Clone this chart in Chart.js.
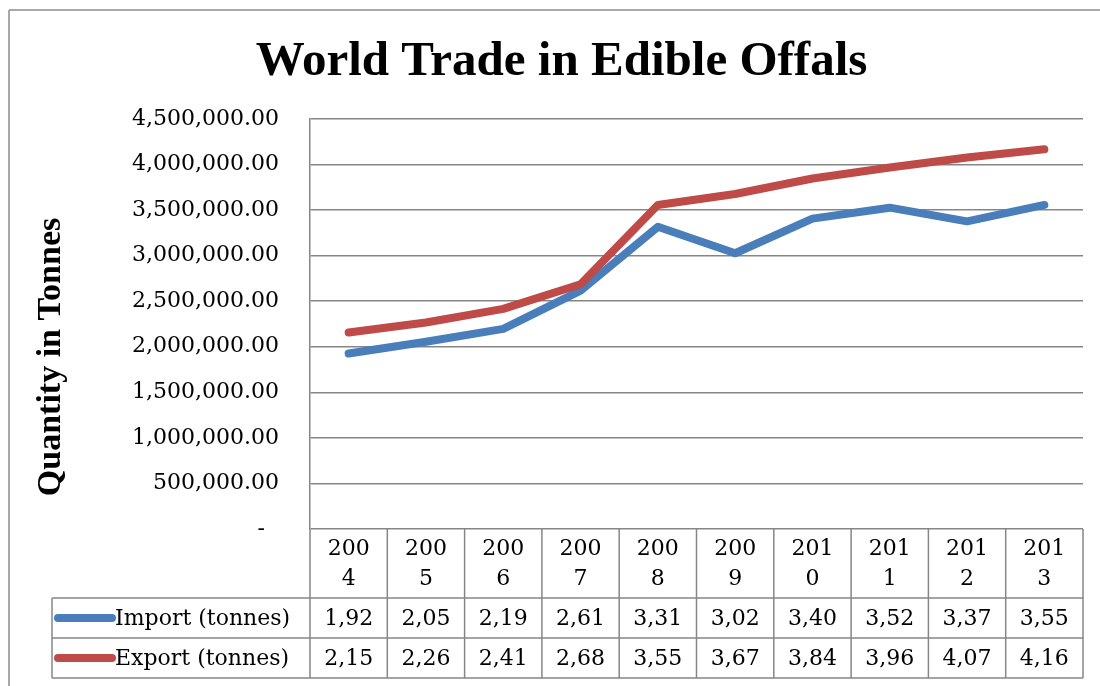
<!DOCTYPE html>
<html>
<head>
<meta charset="utf-8">
<script src="https://cdn.jsdelivr.net/npm/chart.js@4"></script>
<style>html,body{margin:0;background:#fff}</style>
</head>
<body>
<canvas id="chart" width="1100" height="686"></canvas>
<script>
const years = ["2004", "2005", "2006", "2007", "2008", "2009", "2010", "2011", "2012", "2013"];
const importTonnes = [1925000, 2055000, 2195000, 2615000, 3315000, 3025000, 3405000, 3525000, 3375000, 3555000];
const exportTonnes = [2155000, 2265000, 2415000, 2685000, 3555000, 3675000, 3845000, 3965000, 4075000, 4165000];
const seriesNames = ["Import (tonnes)", "Export (tonnes)"];
const seriesColors = ["#4A7EBB", "#BE4B48"];

const gridColor = "#868686";
const serif = "'DejaVu Serif', serif";
const boldSerif = "'Liberation Serif', 'Times New Roman', serif";

// number shown in the data table is cut to the cell width, like in the sheet
function fmt(v) {
  return v.toLocaleString("en-US", { minimumFractionDigits: 2, maximumFractionDigits: 2 });
}

const tablePlugin = {
  id: "dataTable",
  afterDraw(chart) {
    const ctx = chart.ctx;
    const area = chart.chartArea;
    const xs = chart.scales.x;
    const w = (area.right - area.left) / years.length;
    const top = area.bottom, headBottom = 598, row1 = 638, row2 = 678, legendLeft = 52;

    const line = (x1, y1, x2, y2) => {
      ctx.beginPath(); ctx.moveTo(x1, y1); ctx.lineTo(x2, y2); ctx.stroke();
    };

    ctx.save();
    // outer frame
    ctx.strokeStyle = "#8c8c8c";
    ctx.lineWidth = 1.5;
    line(9, 10, 1100, 10);
    line(9, 10, 9, 686);

    ctx.strokeStyle = gridColor;
    line(legendLeft, headBottom, area.right, headBottom);
    line(legendLeft, row1, area.right, row1);
    line(legendLeft, row2, area.right, row2);
    line(legendLeft, headBottom, legendLeft, row2);
    for (let i = 0; i <= years.length; i++) {
      const xb = i < years.length ? xs.getPixelForValue(i) - w / 2 : xs.getPixelForValue(i - 1) + w / 2;
      line(xb, top, xb, row2);
    }

    ctx.fillStyle = "#000";
    ctx.font = "22px " + serif;
    ctx.textAlign = "center";
    ctx.textBaseline = "middle";
    years.forEach((yr, i) => {
      const cx = xs.getPixelForValue(i);
      ctx.fillText(yr.slice(0, 3), cx, 549);
      ctx.fillText(yr.slice(3), cx, 579);
      ctx.fillText(fmt(importTonnes[i]).slice(0, 4), cx, 619);
      ctx.fillText(fmt(exportTonnes[i]).slice(0, 4), cx, 659);
    });

    // legend keys
    [619, 659].forEach((cy, k) => {
      ctx.strokeStyle = seriesColors[k];
      ctx.lineWidth = 8;
      ctx.lineCap = "round";
      line(58, cy - 1, 112, cy - 1);
      ctx.textAlign = "left";
      ctx.fillText(seriesNames[k], 115, cy);
    });

    // y axis title
    ctx.translate(51, 357);
    ctx.rotate(-Math.PI / 2);
    ctx.font = "bold 34px " + boldSerif;
    ctx.textAlign = "center";
    ctx.fillText("Quantity in Tonnes", 0, 0);
    ctx.restore();
  }
};

new Chart(document.getElementById("chart"), {
  type: "line",
  data: {
    labels: years,
    datasets: [
      { label: seriesNames[0], data: importTonnes, borderColor: seriesColors[0], order: 1 },
      { label: seriesNames[1], data: exportTonnes, borderColor: seriesColors[1], order: 0 }
    ]
  },
  options: {
    responsive: false,
    animation: false,
    devicePixelRatio: 1,
    layout: { padding: { left: 40, right: 17, top: 0, bottom: 157 } },
    elements: {
      line: { borderWidth: 8, tension: 0, borderCapStyle: "round", borderJoinStyle: "round" },
      point: { radius: 0, hoverRadius: 0 }
    },
    plugins: {
      legend: { display: false },
      tooltip: { enabled: false },
      title: {
        display: true,
        text: "World Trade in Edible Offals",
        color: "#000",
        font: { family: boldSerif, size: 49, weight: "bold", lineHeight: 1.2 },
        padding: { top: 33, bottom: 27 }
      }
    },
    scales: {
      x: { display: false, offset: true },
      y: {
        min: 0,
        max: 4500000,
        afterFit(s) { s.width = 270; },
        border: { display: true, color: gridColor, width: 1.5 },
        grid: { color: gridColor, lineWidth: 1.5, drawTicks: false },
        ticks: {
          stepSize: 500000,
          padding: 31,
          color: "#000",
          font: { family: serif, size: 22 },
          callback: v => v === 0 ? "-  " : fmt(v)
        }
      }
    }
  },
  plugins: [tablePlugin]
});
</script>
</body>
</html>
